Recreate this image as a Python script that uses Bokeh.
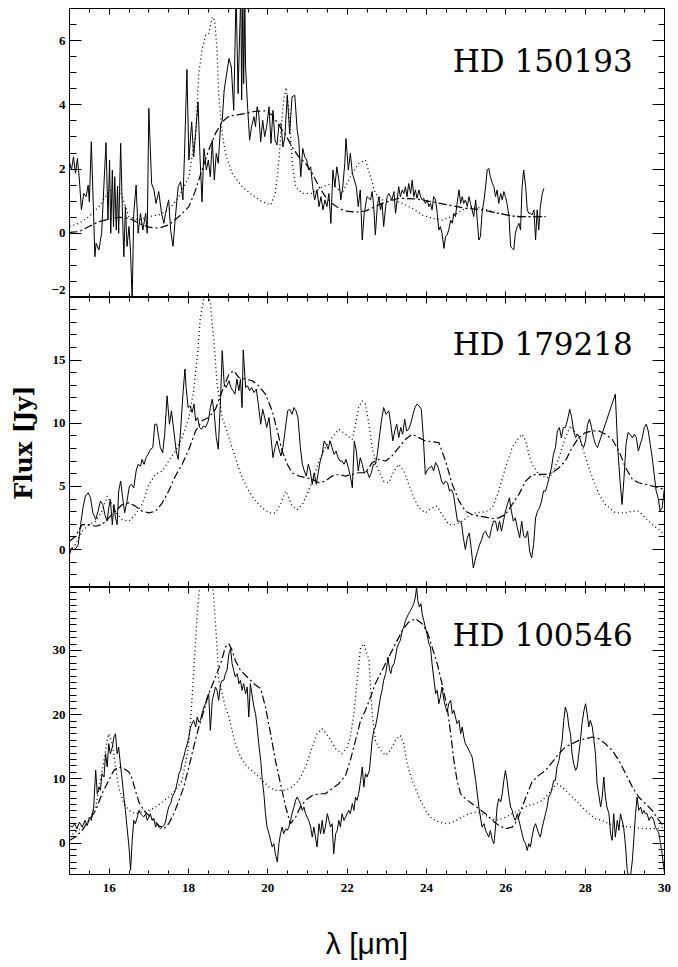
import numpy as np
from bokeh.plotting import figure
from bokeh.models import LinearAxis, FixedTicker, Range1d, Label
from bokeh.layouts import column
from bokeh.embed import file_html
from bokeh.resources import INLINE

# ---------------- data (wavelength [um], flux [Jy]) ----------------
x_major = [16, 18, 20, 22, 24, 26, 28, 30]

hd150193_obs = [
(15.00,2.23),(15.05,1.97),(15.10,2.38),(15.15,1.87),(15.20,2.33),(15.25,1.66),(15.30,0.73),(15.36,1.24),(15.42,1.14),(15.47,1.50),
(15.50,0.98),(15.55,2.85),(15.64,-0.73),(15.67,-0.31),(15.74,-0.52),(15.81,0.00),(15.87,1.55),(15.92,2.82),(15.97,0.41),(16.01,2.28),
(16.04,0.00),(16.08,1.97),(16.11,0.21),(16.14,1.76),(16.18,0.10),(16.21,1.45),(16.24,0.00),(16.29,2.80),(16.33,0.83),(16.37,-0.73),
(16.41,0.83),(16.45,-0.41),(16.50,0.21),(16.54,-0.62),(16.58,-2.10),(16.62,0.62),(16.68,1.50),(16.73,0.00),(16.79,0.62),(16.85,0.10),
(16.92,0.62),(16.96,0.00),(17.00,3.89),(17.07,1.55),(17.13,1.35),(17.18,0.93),(17.25,1.30),(17.32,0.62),(17.38,0.31),(17.42,0.62),
(17.50,1.04),(17.55,0.10),(17.61,-0.41),(17.67,0.52),(17.74,1.45),(17.80,1.61),(17.86,1.04),(17.90,2.49),(17.96,5.10),(18.01,2.28),
(18.08,3.47),(18.13,2.38),(18.18,3.11),(18.24,4.09),(18.29,2.38),(18.34,0.98),(18.39,2.64),(18.45,1.97),(18.50,2.28),(18.55,1.76),
(18.60,2.90),(18.65,1.66),(18.70,2.49),(18.75,2.18),(18.81,3.37),(18.85,3.52),(18.90,4.46),(18.95,4.87),(19.02,5.44),(19.08,5.18),
(19.14,3.83),(19.20,7.50),(19.25,4.35),(19.29,6.22),(19.32,7.50),(19.34,4.15),(19.37,7.50),(19.39,4.66),(19.42,7.05),(19.44,5.18),
(19.48,4.15),(19.54,2.90),(19.59,3.32),(19.65,3.63),(19.69,3.32),(19.73,3.94),(19.77,3.73),(19.82,2.85),(19.87,3.52),(19.92,3.01),
(19.97,3.32),(20.03,3.94),(20.08,2.80),(20.13,3.83),(20.18,2.90),(20.23,2.75),(20.28,3.37),(20.33,3.42),(20.38,2.69),(20.43,3.01),
(20.49,4.30),(20.55,3.11),(20.61,4.25),(20.68,4.30),(20.74,3.21),(20.78,2.90),(20.83,1.76),(20.88,2.64),(20.93,2.38),(20.98,2.28),
(21.03,1.97),(21.08,2.07),(21.13,1.45),(21.18,1.04),(21.24,1.35),(21.29,0.83),(21.34,1.14),(21.39,0.73),(21.44,1.04),(21.49,0.83),
(21.54,1.24),(21.59,0.31),(21.64,1.97),(21.69,1.45),(21.74,2.07),(21.79,1.66),(21.84,1.04),(21.89,1.45),(21.94,2.18),(21.97,2.95),
(22.03,1.97),(22.08,2.49),(22.13,1.87),(22.18,1.66),(22.23,1.45),(22.28,0.83),(22.33,1.35),(22.38,-0.21),(22.43,0.62),(22.50,1.14),
(22.59,1.04),(22.63,1.30),(22.67,0.83),(22.71,-0.05),(22.76,0.83),(22.80,1.14),(22.84,0.73),(22.88,0.93),(22.92,0.21),(22.97,0.83),
(23.01,1.14),(23.05,1.24),(23.09,1.14),(23.13,1.04),(23.18,1.30),(23.22,0.62),(23.26,1.04),(23.30,1.45),(23.34,1.14),(23.39,1.35),
(23.43,1.24),(23.47,1.45),(23.51,1.14),(23.55,1.55),(23.60,1.24),(23.64,1.66),(23.68,1.14),(23.72,1.35),(23.76,1.09),(23.81,1.35),
(23.85,1.14),(23.89,1.04),(23.93,1.09),(23.97,0.93),(24.02,1.04),(24.06,0.83),(24.10,0.93),(24.14,0.73),(24.18,1.14),(24.23,1.04),
(24.27,0.62),(24.31,0.10),(24.35,0.21),(24.39,0.00),(24.44,-0.47),(24.48,-0.10),(24.52,-0.05),(24.56,0.10),(24.61,0.41),(24.65,0.31),
(24.69,0.62),(24.73,0.52),(24.77,0.93),(24.82,1.35),(24.86,0.93),(24.90,1.14),(24.94,0.93),(24.98,1.04),(25.03,0.83),(25.07,1.14),
(25.11,0.93),(25.15,0.73),(25.19,0.52),(25.24,1.04),(25.28,0.41),(25.32,-0.21),(25.36,-0.10),(25.40,0.62),(25.45,1.04),(25.49,1.45),
(25.53,1.97),(25.57,2.02),(25.61,1.76),(25.66,1.55),(25.70,1.45),(25.74,1.14),(25.78,1.35),(25.82,0.93),(25.87,1.24),(25.91,1.04),
(25.95,1.30),(25.99,1.14),(26.03,0.93),(26.08,0.52),(26.12,-0.41),(26.16,-0.47),(26.20,-0.52),(26.24,0.00),(26.29,0.21),(26.33,0.31),
(26.37,0.10),(26.41,1.45),(26.45,1.97),(26.50,1.45),(26.54,0.73),(26.58,0.62),(26.62,0.62),(26.66,0.57),(26.71,0.73),(26.75,-0.21),
(26.79,0.73),(26.83,0.10),(26.87,0.83),(26.92,1.24),(26.96,1.40)]

hd150193_dot = [
(15.00,0.21),(15.24,0.31),(15.49,0.52),(15.74,0.83),(15.99,1.30),(16.24,1.45),(16.50,0.52),(16.75,0.41),(17.00,0.52),(17.25,0.57),
(17.50,0.73),(17.76,1.14),(18.01,1.76),(18.18,3.11),(18.26,4.97),(18.34,5.70),(18.43,6.17),(18.51,6.22),(18.60,6.74),(18.66,6.63),
(18.72,5.70),(18.76,4.35),(18.85,3.11),(18.93,2.49),(19.10,1.87),(19.35,1.45),(19.61,1.19),(19.86,0.98),(20.07,0.88),(20.19,1.24),
(20.28,2.28),(20.34,3.32),(20.40,4.15),(20.46,4.54),(20.53,3.83),(20.61,2.28),(20.70,1.45),(20.87,1.24),(21.12,1.24),(21.37,1.45),
(21.62,1.55),(21.87,1.24),(22.13,1.87),(22.29,2.18),(22.46,2.28),(22.59,1.76),(22.71,1.24),(22.88,1.04),(23.13,1.04),(23.39,0.93),
(23.64,0.78),(23.89,0.57),(24.14,0.47),(24.39,0.41),(24.65,0.52),(24.90,0.73),(25.15,0.83),(25.40,0.78),(25.66,0.67),(25.99,0.57),
(26.33,0.52),(26.66,0.52),(27.00,0.52)]

hd150193_dd = [
(15.00,0.03),(15.24,0.05),(15.49,0.21),(15.74,0.36),(15.99,0.44),(16.24,0.50),(16.50,0.47),(16.75,0.31),(17.00,0.19),(17.25,0.16),
(17.50,0.26),(17.76,0.52),(18.01,0.83),(18.18,1.35),(18.34,1.97),(18.51,2.59),(18.68,3.11),(18.85,3.47),(19.02,3.65),(19.18,3.68),
(19.44,3.73),(19.69,3.80),(19.94,3.81),(20.11,3.68),(20.28,3.37),(20.45,3.06),(20.61,2.69),(20.78,2.38),(20.95,2.18),(21.12,1.87),
(21.29,1.45),(21.45,1.14),(21.62,0.93),(21.79,0.78),(21.96,0.69),(22.21,0.66),(22.46,0.69),(22.88,0.93),(23.30,1.09),(23.72,1.07),
(24.14,0.98),(24.56,0.88),(24.98,0.78),(25.40,0.73),(25.82,0.62),(26.24,0.52),(26.66,0.52),(27.00,0.52)]

hd179218_obs = [
(15.00,-0.40),(15.05,0.13),(15.11,0.00),(15.17,0.13),(15.22,0.40),(15.28,1.98),(15.34,3.31),(15.40,4.23),(15.47,4.50),(15.53,4.10),
(15.59,2.91),(15.66,2.38),(15.72,3.04),(15.78,3.84),(15.84,3.57),(15.89,2.78),(15.95,2.25),(15.99,3.31),(16.03,3.97),(16.08,1.98),
(16.12,3.57),(16.16,2.51),(16.20,1.98),(16.24,4.63),(16.29,5.42),(16.34,4.10),(16.39,2.91),(16.45,3.84),(16.51,5.03),(16.56,5.16),
(16.62,4.89),(16.68,6.22),(16.73,6.75),(16.79,6.61),(16.83,7.14),(16.88,6.75),(16.93,7.28),(16.98,7.54),(17.04,7.94),(17.10,8.07),
(17.15,9.92),(17.20,9.92),(17.25,8.86),(17.29,8.07),(17.35,7.67),(17.40,9.13),(17.46,12.17),(17.52,9.92),(17.57,10.98),(17.63,9.39),
(17.69,7.80),(17.74,7.14),(17.80,9.39),(17.86,12.30),(17.91,14.29),(17.94,12.83),(17.99,11.24),(18.04,11.38),(18.09,10.85),(18.14,11.51),
(18.18,10.19),(18.23,10.45),(18.28,9.66),(18.33,9.52),(18.38,9.79),(18.43,9.66),(18.50,10.19),(18.55,11.24),(18.60,11.90),(18.65,10.71),
(18.70,8.86),(18.75,7.94),(18.81,12.04),(18.85,15.74),(18.90,13.10),(18.95,12.83),(19.02,13.36),(19.07,12.83),(19.12,12.57),(19.17,12.30),
(19.22,13.49),(19.27,12.57),(19.31,13.49),(19.35,11.24),(19.38,15.79),(19.44,12.83),(19.49,12.96),(19.54,12.57),(19.59,12.83),(19.65,12.43),
(19.71,12.70),(19.76,11.51),(19.82,9.92),(19.87,11.11),(19.92,10.45),(19.97,9.66),(20.03,10.45),(20.08,8.86),(20.13,7.28),(20.18,8.07),
(20.23,8.60),(20.28,7.94),(20.33,7.41),(20.38,8.07),(20.45,9.79),(20.50,10.98),(20.55,11.11),(20.61,10.71),(20.66,11.24),(20.71,10.98),
(20.76,10.45),(20.82,8.07),(20.87,6.75),(20.92,6.22),(20.97,5.82),(21.02,6.75),(21.07,6.22),(21.12,5.16),(21.17,6.08),(21.22,5.16),
(21.27,6.08),(21.32,7.01),(21.37,7.54),(21.42,8.60),(21.47,8.33),(21.52,7.94),(21.57,8.60),(21.62,8.07),(21.67,7.54),(21.72,7.80),
(21.77,7.28),(21.82,7.01),(21.87,7.01),(21.92,6.75),(21.97,7.14),(22.03,6.48),(22.08,5.82),(22.13,4.89),(22.18,8.60),(22.23,7.80),
(22.28,6.22),(22.33,7.28),(22.38,6.75),(22.43,6.08),(22.50,6.22),(22.56,5.69),(22.61,6.08),(22.66,6.75),(22.71,6.75),(22.76,7.54),
(22.81,8.86),(22.87,10.32),(22.92,11.24),(22.98,10.71),(23.05,10.98),(23.10,9.92),(23.15,8.60),(23.20,9.39),(23.25,9.92),(23.30,8.86),
(23.35,9.66),(23.40,9.13),(23.45,10.32),(23.50,9.39),(23.55,9.52),(23.61,10.05),(23.66,10.71),(23.71,11.24),(23.76,11.51),(23.81,11.38),
(23.87,11.11),(23.92,8.86),(23.97,5.95),(24.03,6.35),(24.08,6.48),(24.13,6.61),(24.18,6.22),(24.23,6.88),(24.28,6.61),(24.33,6.08),
(24.38,5.42),(24.43,5.16),(24.48,5.42),(24.53,5.29),(24.58,4.63),(24.63,4.76),(24.68,4.37),(24.73,3.31),(24.78,2.25),(24.83,2.25),
(24.88,2.12),(24.93,0.93),(24.98,0.00),(25.03,0.93),(25.08,1.32),(25.13,0.00),(25.18,-1.46),(25.24,-0.66),(25.29,-0.13),(25.34,0.40),
(25.39,0.79),(25.44,1.32),(25.49,1.46),(25.54,1.06),(25.59,0.93),(25.64,1.72),(25.69,2.25),(25.74,2.25),(25.79,1.46),(25.84,2.25),
(25.89,1.46),(25.94,2.25),(25.99,3.04),(26.04,3.57),(26.09,4.10),(26.14,3.04),(26.19,2.25),(26.24,2.51),(26.29,1.72),(26.35,0.93),
(26.40,2.25),(26.45,1.06),(26.50,0.93),(26.55,1.46),(26.60,-0.13),(26.65,-0.66),(26.70,0.40),(26.75,2.51),(26.80,3.04),(26.85,3.31),
(26.90,3.84),(26.95,4.63),(27.00,4.63),(27.05,5.16),(27.10,5.82),(27.15,6.48),(27.20,7.54),(27.25,8.07),(27.30,9.39),(27.35,9.66),
(27.40,8.86),(27.45,9.66),(27.50,9.66),(27.55,10.19),(27.61,11.11),(27.66,10.45),(27.71,9.39),(27.76,8.86),(27.81,9.13),(27.86,8.86),
(27.91,8.33),(27.96,8.07),(28.01,8.60),(28.06,9.92),(28.11,10.32),(28.16,9.66),(28.21,8.86),(28.26,8.33),(28.31,8.07),(28.76,12.30),
(28.82,8.07),(28.88,5.42),(28.93,3.57),(28.98,5.69),(29.03,8.33),(29.08,9.26),(29.13,9.13),(29.19,8.86),(29.24,9.13),(29.29,8.86),
(29.34,7.80),(29.39,8.33),(29.44,8.86),(29.49,9.66),(29.54,9.92),(29.59,9.39),(29.64,8.33),(29.69,7.28),(29.74,5.95),(29.79,4.63),
(29.84,4.10),(29.89,3.04),(29.94,3.31),(30.00,4.89)]

hd179218_dot = [
(15.00,-0.13),(15.15,0.40),(15.32,1.46),(15.49,1.98),(15.66,2.25),(15.82,3.04),(15.95,4.23),(16.08,3.57),(16.20,2.78),(16.33,2.38),
(16.50,2.25),(16.66,2.78),(16.83,3.57),(17.00,5.16),(17.17,5.95),(17.34,6.22),(17.50,7.01),(17.67,7.80),(17.84,8.86),(18.01,10.45),
(18.13,12.57),(18.22,15.21),(18.30,18.39),(18.39,19.97),(18.47,21.00),(18.55,19.44),(18.64,16.53),(18.72,13.10),(18.85,10.45),(19.02,8.86),
(19.18,7.28),(19.35,5.69),(19.52,4.63),(19.69,3.84),(19.86,3.31),(20.03,2.91),(20.19,2.91),(20.32,3.57),(20.45,4.63),(20.53,4.10),
(20.61,3.44),(20.74,3.17),(20.87,3.57),(20.99,4.37),(21.12,5.42),(21.29,7.01),(21.45,8.07),(21.62,8.86),(21.79,9.52),(21.96,9.13),
(22.13,8.73),(22.21,9.92),(22.29,11.24),(22.38,11.77),(22.46,11.51),(22.55,9.92),(22.63,8.07),(22.76,6.48),(22.92,5.42),(23.05,5.29),
(23.18,6.22),(23.30,6.75),(23.43,6.22),(23.55,5.16),(23.68,4.10),(23.81,3.31),(23.97,2.91),(24.14,3.31),(24.27,3.44),(24.39,2.78),
(24.56,1.98),(24.73,1.98),(24.90,2.25),(25.07,2.65),(25.24,2.91),(25.49,2.99),(25.66,3.31),(25.82,4.63),(25.99,6.48),(26.16,8.07),
(26.33,8.86),(26.41,9.13),(26.50,8.60),(26.58,7.54),(26.66,6.75),(26.83,5.95),(27.04,5.69),(27.17,5.95),(27.34,7.28),(27.50,8.86),
(27.63,9.79),(27.76,9.26),(27.88,8.60),(28.01,7.28),(28.18,5.69),(28.35,4.37),(28.51,3.57),(28.76,2.91),(29.02,2.91),(29.19,3.04),
(29.35,3.04),(29.52,2.51),(29.69,1.98),(29.86,1.59),(30.00,1.19)]

hd179218_dd = [
(15.00,0.66),(15.15,1.06),(15.32,1.98),(15.49,1.98),(15.66,1.85),(15.82,1.98),(15.99,2.51),(16.16,3.04),(16.33,3.57),(16.50,3.70),
(16.66,3.44),(16.83,3.04),(17.00,2.91),(17.17,3.04),(17.34,3.70),(17.50,4.63),(17.67,5.82),(17.84,6.75),(18.01,7.94),(18.18,9.39),
(18.34,10.19),(18.51,10.45),(18.68,11.11),(18.85,12.57),(19.02,13.89),(19.14,14.15),(19.27,13.62),(19.44,13.49),(19.61,13.36),(19.77,12.96),
(19.94,12.30),(20.11,10.98),(20.24,9.39),(20.36,7.80),(20.49,6.75),(20.61,6.08),(20.78,5.82),(20.95,5.69),(21.12,5.56),(21.29,5.29),
(21.45,5.42),(21.62,5.82),(21.79,5.95),(21.96,5.82),(22.13,5.95),(22.29,6.08),(22.46,6.08),(22.63,6.88),(22.80,7.14),(22.97,7.01),
(23.13,7.41),(23.30,8.07),(23.47,8.73),(23.64,9.13),(23.81,8.86),(23.97,8.60),(24.14,8.54),(24.31,8.47),(24.48,7.01),(24.65,5.16),
(24.82,3.84),(24.98,3.04),(25.15,2.78),(25.32,2.65),(25.49,2.57),(25.66,2.46),(25.82,2.51),(25.99,2.78),(26.16,3.57),(26.33,4.37),
(26.50,5.42),(26.66,5.90),(26.83,5.95),(27.00,5.95),(27.17,6.08),(27.34,6.48),(27.50,7.01),(27.67,8.07),(27.84,8.86),(28.01,9.26),
(28.18,9.39),(28.35,9.39),(28.51,9.13),(28.68,8.73),(28.85,7.80),(29.02,6.48),(29.19,5.56),(29.35,5.29),(29.52,5.16),(29.69,5.03),
(29.86,4.89),(30.00,4.76)]

hd100546_obs = [
(15.00,2.75),(15.07,2.49),(15.13,3.01),(15.19,2.23),(15.25,3.27),(15.32,2.49),(15.39,3.53),(15.45,2.75),(15.50,4.05),(15.55,3.53),
(15.61,5.61),(15.66,11.32),(15.70,7.68),(15.74,8.72),(15.78,8.20),(15.82,10.80),(15.87,10.28),(15.91,13.91),(15.95,11.84),(15.99,15.47),
(16.03,13.91),(16.08,14.95),(16.12,16.51),(16.16,17.03),(16.20,13.91),(16.24,14.95),(16.29,11.84),(16.33,9.76),(16.37,7.17),(16.41,5.09),
(16.45,2.49),(16.50,-0.62),(16.54,-4.26),(16.58,0.42),(16.62,3.53),(16.66,3.01),(16.71,4.05),(16.75,5.09),(16.79,4.57),(16.83,4.31),
(16.87,4.05),(16.92,4.57),(16.96,3.53),(17.00,4.05),(17.04,4.57),(17.08,3.53),(17.13,3.79),(17.17,2.49),(17.21,3.01),(17.25,2.49),
(17.29,2.23),(17.34,2.49),(17.38,2.75),(17.42,3.27),(17.46,4.57),(17.50,5.61),(17.55,6.13),(17.59,7.17),(17.63,7.68),(17.67,8.20),
(17.71,9.24),(17.76,10.80),(17.80,11.32),(17.84,12.62),(17.88,13.40),(17.92,14.43),(17.97,15.47),(18.01,16.51),(18.05,18.07),(18.09,18.59),
(18.13,19.11),(18.18,18.07),(18.22,19.63),(18.26,18.85),(18.30,19.11),(18.34,20.15),(18.39,21.18),(18.43,21.70),(18.47,22.74),(18.51,23.26),
(18.55,17.55),(18.60,22.22),(18.64,23.26),(18.68,24.30),(18.72,23.78),(18.76,22.22),(18.81,24.82),(18.85,25.34),(18.89,25.34),(18.93,26.38),
(18.97,26.90),(19.02,29.49),(19.06,30.27),(19.10,27.93),(19.14,26.90),(19.18,25.86),(19.23,26.38),(19.27,24.82),(19.31,25.34),(19.35,23.78),
(19.39,24.82),(19.44,23.26),(19.48,24.30),(19.52,19.63),(19.56,24.82),(19.61,22.74),(19.65,21.18),(19.69,20.15),(19.73,18.07),(19.77,15.47),
(19.82,12.88),(19.86,9.76),(19.90,7.68),(19.94,4.57),(19.98,2.49),(20.03,1.45),(20.07,0.42),(20.11,-0.62),(20.15,-0.10),(20.19,-1.66),
(20.24,-2.96),(20.28,-0.10),(20.32,1.45),(20.36,2.49),(20.40,1.45),(20.45,2.23),(20.49,1.97),(20.53,2.49),(20.57,3.53),(20.61,4.57),
(20.66,5.61),(20.70,6.65),(20.74,7.17),(20.78,6.65),(20.82,6.13),(20.87,5.09),(20.91,5.61),(20.95,4.57),(20.99,4.05),(21.03,3.53),
(21.08,2.49),(21.12,0.93),(21.16,2.49),(21.20,0.93),(21.24,-0.62),(21.29,3.01),(21.33,1.45),(21.37,3.53),(21.41,1.45),(21.45,2.49),
(21.50,4.57),(21.54,3.53),(21.58,2.49),(21.62,3.01),(21.66,-1.66),(21.71,1.45),(21.75,1.97),(21.79,3.53),(21.83,2.49),(21.87,4.57),
(21.92,3.53),(21.96,4.05),(22.00,4.57),(22.04,5.09),(22.08,4.57),(22.13,6.13),(22.17,5.09),(22.21,7.17),(22.25,6.65),(22.29,7.68),
(22.34,9.76),(22.38,11.84),(22.42,8.72),(22.46,10.80),(22.50,10.28),(22.56,11.32),(22.60,13.91),(22.63,15.99),(22.67,17.55),(22.71,18.07),
(22.76,19.63),(22.80,21.18),(22.84,22.74),(22.88,23.78),(22.92,25.34),(22.97,26.38),(23.01,27.93),(23.03,28.97),(23.07,26.90),(23.10,26.38),
(23.13,27.41),(23.18,27.93),(23.22,28.97),(23.26,30.53),(23.30,31.05),(23.34,31.57),(23.39,33.13),(23.43,33.64),(23.47,34.68),(23.51,35.20),
(23.55,35.72),(23.60,36.24),(23.64,36.76),(23.68,37.28),(23.72,38.32),(23.75,39.88),(23.78,37.80),(23.82,36.76),(23.86,37.28),(23.89,35.72),
(23.93,34.68),(23.97,33.64),(24.02,32.35),(24.06,31.05),(24.10,30.53),(24.14,27.93),(24.19,25.34),(24.23,23.26),(24.27,23.78),(24.31,21.70),
(24.35,22.74),(24.39,24.30),(24.44,22.22),(24.48,21.18),(24.52,20.40),(24.56,21.70),(24.61,22.22),(24.65,20.15),(24.69,20.66),(24.73,19.63),
(24.77,18.59),(24.82,19.11),(24.86,17.03),(24.90,18.07),(24.94,16.51),(24.98,15.47),(25.03,14.95),(25.07,14.43),(25.11,13.91),(25.15,13.40),
(25.19,11.84),(25.24,9.76),(25.28,7.68),(25.32,5.61),(25.36,4.05),(25.40,2.49),(25.45,3.01),(25.49,1.97),(25.53,1.45),(25.57,0.93),
(25.61,1.97),(25.66,0.42),(25.70,-0.10),(25.74,2.49),(25.78,5.61),(25.82,6.91),(25.87,6.39),(25.91,7.68),(25.95,9.76),(25.99,11.32),
(26.03,9.76),(26.08,7.17),(26.12,5.61),(26.16,5.09),(26.20,4.05),(26.24,3.53),(26.29,4.57),(26.33,3.53),(26.37,2.49),(26.41,1.45),
(26.45,0.42),(26.50,-0.10),(26.54,-1.14),(26.58,-0.10),(26.62,-0.62),(26.66,0.93),(26.71,2.49),(26.75,3.01),(26.79,2.23),(26.83,1.45),
(26.87,0.93),(26.92,2.49),(26.96,3.53),(27.00,4.57),(27.04,5.61),(27.08,7.17),(27.13,7.68),(27.17,8.72),(27.21,9.76),(27.25,9.76),
(27.29,11.84),(27.34,12.88),(27.38,14.43),(27.42,15.99),(27.46,19.11),(27.50,21.18),(27.55,20.15),(27.59,18.07),(27.63,17.03),(27.67,13.91),
(27.71,12.36),(27.76,11.32),(27.80,11.84),(27.84,13.91),(27.88,15.99),(27.92,18.59),(27.97,20.66),(28.01,21.70),(28.05,20.15),(28.09,18.07),
(28.13,19.11),(28.18,18.07),(28.22,15.99),(28.26,13.91),(28.30,9.24),(28.34,7.68),(28.39,5.61),(28.43,7.17),(28.47,10.28),(28.51,7.17),
(28.55,5.61),(28.60,4.57),(28.64,1.45),(28.68,0.42),(28.72,4.57),(28.76,0.93),(28.81,3.53),(28.85,1.97),(28.89,4.57),(28.93,3.53),
(28.97,2.49),(29.02,-0.62),(29.06,-4.26),(29.10,-5.30),(29.14,-5.30),(29.19,-2.70),(29.23,0.93),(29.27,4.57),(29.31,7.17),(29.35,5.09),
(29.40,5.61),(29.44,4.57),(29.48,5.09),(29.52,4.57),(29.56,4.57),(29.61,3.53),(29.65,4.05),(29.69,4.05),(29.73,3.53),(29.77,2.49),
(29.82,1.97),(29.86,1.45),(29.90,-0.10),(29.94,-1.66),(29.98,-3.74),(30.00,-4.78)]

hd100546_dot = [
(15.00,0.93),(15.15,1.71),(15.32,2.49),(15.49,3.53),(15.66,5.61),(15.78,9.76),(15.87,12.88),(15.95,15.99),(15.99,17.03),(16.08,15.47),
(16.16,11.84),(16.24,8.72),(16.37,6.13),(16.50,5.09),(16.66,4.57),(16.83,4.83),(17.00,5.09),(17.17,5.61),(17.34,6.39),(17.50,7.17),
(17.67,8.20),(17.84,9.76),(17.97,13.91),(18.05,18.59),(18.13,26.38),(18.22,35.72),(18.28,39.88),(18.35,52.0),(18.45,58.0),(18.55,48.0),
(18.60,40.90),(18.64,37.80),(18.72,30.53),(18.76,25.34),(18.85,23.26),(18.93,21.18),(19.02,19.63),(19.10,17.55),(19.18,15.47),(19.31,13.40),
(19.48,11.84),(19.69,10.80),(19.86,9.76),(20.03,8.72),(20.19,8.20),(20.32,8.20),(20.45,8.20),(20.61,8.72),(20.78,9.76),(20.95,11.84),
(21.12,14.95),(21.24,17.03),(21.37,17.81),(21.54,16.51),(21.71,14.69),(21.87,13.91),(22.00,14.95),(22.08,16.51),(22.17,20.15),(22.25,25.34),
(22.34,30.53),(22.42,31.05),(22.50,29.49),(22.55,28.45),(22.63,20.15),(22.71,15.99),(22.84,14.43),(22.97,13.66),(23.09,14.43),(23.22,15.99),
(23.34,16.77),(23.43,15.47),(23.51,12.36),(23.64,9.76),(23.81,7.17),(23.97,5.09),(24.14,3.79),(24.31,3.27),(24.52,3.01),(24.73,3.43),
(24.90,4.05),(25.07,4.57),(25.24,4.83),(25.40,4.57),(25.57,4.05),(25.74,3.53),(25.91,3.79),(26.08,4.31),(26.24,4.83),(26.41,5.35),
(26.58,5.87),(26.75,6.13),(26.92,6.65),(27.08,7.68),(27.21,8.72),(27.29,9.24),(27.42,8.72),(27.59,7.68),(27.76,6.65),(27.92,5.61),
(28.09,4.57),(28.26,3.79),(28.43,3.53),(28.60,3.01),(28.76,2.75),(29.02,2.60),(29.27,2.39),(29.52,2.23),(29.77,2.23),(30.00,2.49)]

hd100546_dd = [
(15.00,0.42),(15.15,0.93),(15.32,1.97),(15.49,3.53),(15.66,5.09),(15.82,7.68),(15.99,9.76),(16.12,11.32),(16.24,11.84),(16.37,11.58),
(16.50,11.06),(16.58,10.02),(16.66,8.20),(16.75,6.39),(16.87,5.09),(17.00,4.31),(17.13,3.53),(17.25,2.75),(17.38,2.23),(17.50,3.01),
(17.63,4.57),(17.76,6.65),(17.88,8.72),(18.01,11.84),(18.13,14.95),(18.26,18.07),(18.39,20.66),(18.51,23.26),(18.68,25.86),(18.81,27.93),
(18.93,30.53),(19.02,31.05),(19.10,30.01),(19.18,28.45),(19.31,26.90),(19.48,25.86),(19.65,24.82),(19.82,24.04),(19.94,21.18),(20.07,17.03),
(20.19,12.88),(20.32,9.24),(20.45,5.61),(20.57,3.01),(20.70,4.05),(20.82,5.61),(20.95,6.65),(21.12,7.42),(21.29,7.68),(21.45,7.68),
(21.62,8.46),(21.79,9.24),(21.96,10.54),(22.08,12.88),(22.21,15.99),(22.34,19.11),(22.46,20.66),(22.59,22.74),(22.71,24.82),(22.88,26.90),
(23.05,28.97),(23.22,31.05),(23.39,33.13),(23.55,34.42),(23.72,34.94),(23.89,34.16),(24.02,32.87),(24.14,30.53),(24.27,27.93),(24.39,24.82),
(24.52,21.18),(24.61,17.03),(24.69,12.88),(24.77,9.76),(24.86,7.68),(24.98,6.91),(25.15,6.13),(25.32,5.35),(25.49,4.57),(25.66,3.53),
(25.82,2.75),(25.99,2.23),(26.16,2.49),(26.29,3.53),(26.41,5.61),(26.54,7.68),(26.66,9.50),(26.83,10.54),(27.00,11.32),(27.17,12.62),
(27.34,13.91),(27.50,14.95),(27.67,15.47),(27.84,15.99),(28.01,16.25),(28.18,16.51),(28.34,16.25),(28.51,15.47),(28.68,14.43),(28.85,12.88),
(29.02,10.80),(29.19,8.72),(29.35,7.17),(29.52,6.13),(29.69,5.09),(29.86,3.53),(30.00,2.49)]

panels = [
    dict(name="HD 150193", obs=hd150193_obs, dot=hd150193_dot, dd=hd150193_dd,
         yr=(-2.0, 7.0), major=[-2, 0, 2, 4, 6], minor_step=0.5, label_y=5.36, fh=289),
    dict(name="HD 179218", obs=hd179218_obs, dot=hd179218_dot, dd=hd179218_dd,
         yr=(-3.0, 19.95), major=[0, 5, 10, 15], minor_step=1.0, label_y=16.3, fh=290),
    dict(name="HD 100546", obs=hd100546_obs, dot=hd100546_dot, dd=hd100546_dd,
         yr=(-4.9, 39.8), major=[0, 10, 20, 30], minor_step=1.0, label_y=32.35, fh=287),
]

TICK_FONT = "Liberation Serif"
X_MAJ_LEN, X_MIN_LEN = 6, 4
Y_MAJ_LEN, Y_MIN_LEN = 12, 7


def labeled_axis(positions, standoff, overrides=None):
    # an axis that only carries the numbers (tick marks come from tick_only_axis)
    ax = LinearAxis(ticker=FixedTicker(ticks=positions, minor_ticks=[]))
    ax.axis_line_color = None
    ax.major_tick_in = 0
    ax.major_tick_out = 0
    ax.minor_tick_in = 0
    ax.minor_tick_out = 0
    ax.major_tick_line_color = None
    ax.minor_tick_line_color = None
    ax.major_label_text_font = TICK_FONT
    ax.major_label_text_font_style = "bold"
    ax.major_label_text_font_size = "13px"
    ax.major_label_text_color = "black"
    ax.major_label_standoff = standoff
    if overrides:
        ax.major_label_overrides = overrides
    return ax


def tick_only_axis(positions, length, line):
    # an axis that only carries tick marks (no labels)
    ax = LinearAxis(ticker=FixedTicker(ticks=[], minor_ticks=positions))
    ax.axis_line_color = "black" if line else None
    ax.major_tick_in = 0
    ax.major_tick_out = 0
    ax.minor_tick_in = length
    ax.minor_tick_out = 0
    ax.minor_tick_line_color = "black"
    ax.major_label_standoff = 0
    return ax


figs = []
x_minor = [v for v in np.arange(15.0, 30.01, 0.5) if v not in x_major]
for i, pd_ in enumerate(panels):
    first, last = (i == 0), (i == 2)
    p = figure(frame_width=595, frame_height=pd_["fh"],
               x_range=Range1d(15, 30), y_range=Range1d(*pd_["yr"]),
               x_axis_location=None, y_axis_location=None,
               output_backend="svg", toolbar_location=None,
               min_border_left=69, min_border_right=12,
               min_border_top=(8 if first else 0),
               min_border_bottom=(85 if last else 0))
    p.grid.visible = False
    p.outline_line_color = "black"
    p.outline_line_width = 1
    p.background_fill_color = "white"
    p.border_fill_color = "white"

    ymin, ymax = pd_["yr"]
    y_minor = [v for v in np.arange(np.ceil(ymin), ymax + 0.01, pd_["minor_step"])
               if v not in pd_["major"]]

    # left: tick marks, then numbers
    p.add_layout(tick_only_axis(pd_["major"], Y_MAJ_LEN, True), "left")
    p.add_layout(tick_only_axis(y_minor, Y_MIN_LEN, False), "left")
    if first:
        # the lowest number sits just above the lower edge, as in the original
        label_pos = [-1.76] + pd_["major"][1:]
        left = labeled_axis(label_pos, 4, overrides={-1.76: "\u22122"})
    else:
        left = labeled_axis(pd_["major"], 4)
    if i == 1:
        left.axis_label = "Flux [Jy]"
        left.axis_label_text_font = "DejaVu Serif"
        left.axis_label_text_font_style = "bold"
        left.axis_label_text_font_size = "24px"
        left.axis_label_text_color = "black"
        left.axis_label_standoff = 12
    p.add_layout(left, "left")

    # right mirror ticks
    p.add_layout(tick_only_axis(pd_["major"], Y_MAJ_LEN, True), "right")
    p.add_layout(tick_only_axis(y_minor, 6, False), "right")

    # top mirror ticks
    p.add_layout(tick_only_axis(x_major, X_MAJ_LEN, True), "above")
    p.add_layout(tick_only_axis(x_minor, X_MIN_LEN, False), "above")

    # bottom ticks (+ numbers and title on the last panel)
    p.add_layout(tick_only_axis(x_major, X_MAJ_LEN, True), "below")
    p.add_layout(tick_only_axis(x_minor, X_MIN_LEN, False), "below")
    if last:
        bottom = labeled_axis(x_major, 9)
        bottom.axis_label = "\u03bb [\u03bcm]"
        bottom.axis_label_text_font = "Liberation Sans"
        bottom.axis_label_text_font_style = "normal"
        bottom.axis_label_text_font_size = "30px"
        bottom.axis_label_text_color = "black"
        bottom.axis_label_standoff = 32
        p.add_layout(bottom, "below")

    ox, oy = zip(*pd_["obs"])
    dx, dy = zip(*pd_["dot"])
    ex, ey = zip(*pd_["dd"])
    p.line(list(dx), list(dy), line_color="black", line_width=1.3, line_dash="1 3")
    p.line(list(ex), list(ey), line_color="black", line_width=1.2, line_dash="8 3 2 3")
    p.line(list(ox), list(oy), line_color="black", line_width=1.0)

    p.add_layout(Label(x=29.2, y=pd_["label_y"], text=pd_["name"],
                       text_align="right", text_baseline="middle",
                       text_font="DejaVu Serif", text_font_size="31px",
                       text_color="black"))
    figs.append(p)

layout = column(*figs, spacing=0)
open("out.html", "w").write(file_html(layout, INLINE))
